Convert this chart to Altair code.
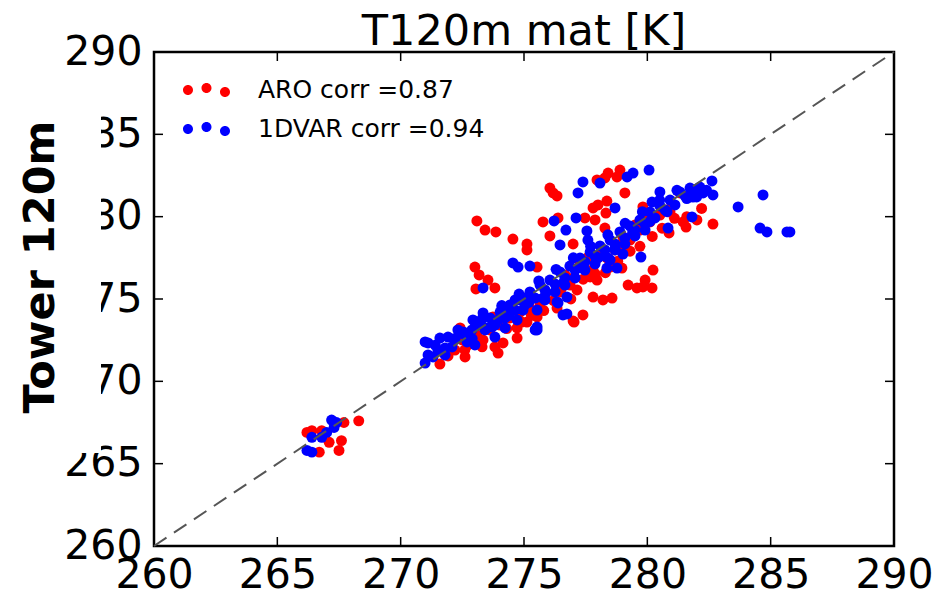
import altair as alt
import pandas as pd

# ---------------- data ----------------
aro_x = [268.3, 267.7, 266.2, 266.4, 266.7, 267.5, 267.6, 267.1, 266.8,
         276.05, 276.18, 276.34, 277.96, 278.28, 278.41, 278.89, 278.77, 279.09, 278.36,
         278.00, 277.80, 278.32, 277.47, 277.88, 273.09, 275.77, 276.38, 273.42, 273.86,
         274.55, 275.12, 275.12, 276.05, 276.99, 278.28, 279.01, 279.82, 279.99, 281.32,
         280.92, 281.45, 281.57, 282.01, 282.66, 280.88, 280.23, 279.91, 279.22, 279.58,
         279.82, 280.19, 278.49, 278.97, 277.80, 277.68, 277.96, 277.80, 278.20, 278.57,
         276.99, 277.15, 277.39, 277.03, 273.01, 273.18, 273.54, 273.82, 273.05, 275.53,
         276.34, 276.99, 275.53, 275.12, 274.72, 274.72, 274.15, 273.82, 273.95, 273.74,
         273.34, 273.09, 272.41, 272.61, 271.59,
         277.55, 277.88, 278.08, 277.47, 277.27, 276.66, 276.87, 276.46, 275.85, 275.65,
         275.24, 274.84, 274.43, 274.03, 273.62, 273.13, 272.73, 272.20, 272.49, 271.92,
         278.89, 279.30, 279.70, 280.11, 280.51, 281.00, 278.69, 279.50, 278.36,
         274.3, 274.9, 275.3, 275.8, 276.2, 276.5, 276.9, 277.4, 277.9, 278.3,
         278.8, 279.3, 279.7, 280.2, 280.6, 281.1, 281.6, 282.2, 272.6, 273.3]
aro_y = [267.6, 267.5, 266.9, 267.0, 265.7, 265.8, 266.4, 266.3, 267.0,
         281.74, 281.44, 281.26, 282.23, 282.35, 282.65, 282.83, 282.41, 281.44, 280.95,
         280.71, 280.53, 280.22, 279.92, 279.80, 279.74, 279.68, 279.92, 279.19, 279.07,
         278.64, 278.34, 277.98, 278.83, 278.34, 279.31, 278.77, 280.59, 280.10, 281.44,
         280.28, 279.68, 279.37, 279.80, 279.55, 279.01, 276.76, 276.15, 275.85, 275.67,
         275.73, 275.67, 276.94, 276.88, 276.76, 276.34, 276.15, 275.12, 274.94, 275.06,
         276.28, 275.55, 274.03, 273.60, 276.94, 276.46, 276.15, 275.67, 275.61, 276.94,
         274.45, 273.66, 273.91, 273.60, 273.24, 272.63, 272.33, 272.09, 271.72, 273.91,
         272.51, 272.81, 273.24, 271.48, 271.05,
         277.49, 277.25, 277.67, 276.88, 277.25, 276.46, 275.85, 275.43, 275.12, 274.76,
         274.45, 274.21, 273.85, 273.42, 273.12, 272.51, 272.21, 271.90, 272.51, 271.54,
         278.28, 278.58, 279.19, 279.68, 280.10, 280.71, 277.98, 279.49, 277.49,
         273.2, 273.6, 274.0, 274.3, 274.9, 275.6, 275.0, 276.2, 276.5, 276.6,
         277.3, 277.9, 278.2, 278.8, 279.3, 279.9, 280.0, 280.5, 271.9, 272.1]

dvar_x = [267.2, 267.3, 267.0, 266.4, 266.2, 266.4, 267.4, 266.8,
          280.07, 279.42, 279.18, 277.39, 278.08, 277.19, 280.51, 278.69, 277.11, 276.22,
          276.70, 277.55, 277.59, 276.46, 280.19, 281.81, 279.74, 279.01, 278.36, 278.77,
          278.41, 274.55, 274.76, 275.24, 273.34, 276.74, 276.38, 276.58, 276.74, 273.34,
          275.53, 274.72, 282.62, 282.13, 282.26, 281.85, 282.66, 284.69, 283.68, 284.57,
          284.85, 285.66, 285.78, 280.84, 278.49,
          270.99, 271.11, 271.59, 271.92, 270.99, 271.11, 271.31, 271.80, 272.08, 273.01,
          272.61, 272.89, 273.82, 274.23, 275.53, 274.11, 272.32, 272.20, 271.51,
          273.22, 273.42, 273.62, 273.82, 274.03, 274.23, 274.43, 274.64, 274.84, 275.04,
          275.24, 275.45, 275.65, 275.85, 276.05, 276.26, 276.46, 276.66, 276.86, 277.07,
          277.27, 277.47, 277.68, 277.88, 278.08, 278.28, 278.49, 278.69, 278.89, 279.09,
          279.30, 279.50, 279.70, 279.91, 280.11, 280.31, 280.51, 280.72, 280.92, 281.12,
          281.32, 281.53, 281.73, 281.93, 275.85, 276.26, 276.66, 277.07, 277.47, 277.88,
          278.28, 278.69, 279.09, 279.50, 279.91, 275.04, 274.64, 274.23, 273.95,
          273.50, 274.96, 275.53, 275.77, 276.34, 275.45, 271.72, 273.01, 272.69, 272.53,
          272.93,
          272.5, 272.9, 273.3, 273.7, 274.1, 274.4, 274.8, 275.2, 275.6, 275.9,
          276.3, 276.6, 277.0, 277.3, 277.7, 278.0, 278.4, 278.7, 279.1, 279.4,
          279.8, 280.1, 280.5, 280.8, 281.2, 281.6, 282.0, 282.4, 271.4, 271.8, 272.2]
dvar_y = [267.65, 267.2, 266.9, 266.6, 265.8, 265.7, 267.5, 266.6,
          282.83, 282.65, 282.41, 282.11, 282.04, 281.44, 281.50, 280.53, 279.92, 279.74,
          279.19, 279.13, 278.58, 278.28, 280.89, 279.98, 277.55, 277.73, 276.88, 276.88,
          277.49, 277.19, 276.94, 277.00, 275.67, 275.12, 274.76, 274.03, 274.09, 274.15,
          273.30, 273.73, 282.17, 281.80, 281.44, 281.19, 281.32, 281.32, 280.59, 279.31,
          279.07, 279.07, 279.07, 279.31, 277.37,
          272.39, 272.33, 272.63, 272.69, 271.11, 271.60, 271.48, 272.02, 272.09, 273.60,
          272.94, 273.12, 272.69, 273.24, 273.12, 274.51, 273.12, 272.51, 271.90,
          273.42, 273.12, 273.85, 273.42, 274.21, 273.85, 274.64, 274.33, 274.94, 274.64,
          275.43, 275.06, 275.85, 275.55, 276.15, 275.91, 276.64, 276.28, 277.00, 276.76,
          277.49, 277.25, 277.85, 277.61, 278.22, 277.98, 278.58, 278.34, 279.07, 278.70,
          279.43, 279.19, 279.80, 279.55, 280.28, 279.92, 280.65, 280.41, 281.01, 280.71,
          281.50, 281.26, 281.74, 281.62, 274.94, 275.43, 275.85, 276.28, 276.76, 277.13,
          277.61, 277.98, 278.34, 278.83, 279.19, 275.06, 274.94, 274.33, 273.73,
          273.24, 274.33, 274.33, 275.06, 274.82, 273.12, 271.78, 272.21, 272.39, 273.00,
          273.73,
          272.9, 272.6, 273.8, 273.3, 274.6, 274.0, 275.3, 274.8, 276.1, 275.4,
          276.8, 276.0, 277.5, 276.9, 278.2, 277.5, 278.9, 278.1, 279.6, 279.0,
          280.3, 279.7, 281.0, 280.3, 281.6, 281.1, 281.2, 281.6, 272.2, 271.6, 272.6]

series_names = ["ARO corr =0.87", "1DVAR corr =0.94"]
series_colors = ["#ff0000", "#0000ff"]
diag_vals = [260, 290]
tick_vals = [265, 270, 275, 280, 285]
axis_vals = [260, 265, 270, 275, 280, 285, 290]

W, H = 740, 494
FONT = "DejaVu Sans"

pts = pd.DataFrame({
    "x": aro_x + dvar_x,
    "y": aro_y + dvar_y,
    "series": [series_names[0]] * len(aro_x) + [series_names[1]] * len(dvar_x),
})
diag = pd.DataFrame({"x": diag_vals, "y": diag_vals})
ticks = pd.DataFrame({"x": tick_vals, "y": tick_vals})

xs = alt.Scale(domain=[260, 290], nice=False, zero=False)
ys = alt.Scale(domain=[260, 290], nice=False, zero=False)


def circle_path(cx, cy, r):
    return (f"M{cx - r},{cy}A{r},{r},0,1,0,{cx + r},{cy}"
            f"A{r},{r},0,1,0,{cx - r},{cy}Z")


legend_symbol = (circle_path(-1.85, 0, 0.5) + circle_path(0, -0.2, 0.5)
                 + circle_path(1.85, 0.2, 0.5))

# white box behind the y title (covers part of the tick labels, as in the reference)
cover = alt.Chart(alt.Data(values=[{}])).mark_rect(color="white").encode(
    x=alt.value(-154), x2=alt.value(-53), y=alt.value(48), y2=alt.value(401)
)

points = alt.Chart(pts).mark_circle(size=120, opacity=1).encode(
    x=alt.X("x:Q", scale=xs, title=None,
            axis=alt.Axis(values=axis_vals, domain=False, ticks=False, grid=False,
                          labelFontSize=41, labelFont=FONT, labelColor="black",
                          labelPadding=9, labelFlush=False, labelOverlap=False)),
    y=alt.Y("y:Q", scale=ys, title=None,
            axis=alt.Axis(values=axis_vals, domain=False, ticks=False, grid=False,
                          labelFontSize=41, labelFont=FONT, labelColor="black",
                          labelPadding=12, labelFlush=False, labelOverlap=False)),
    color=alt.Color("series:N",
                    scale=alt.Scale(domain=series_names, range=series_colors),
                    legend=alt.Legend(title=None, orient="none", legendX=40, legendY=25.5,
                                      symbolType=legend_symbol, symbolSize=400,
                                      symbolStrokeWidth=0, symbolOpacity=1,
                                      labelFont=FONT, labelFontSize=25, labelLimit=500,
                                      labelColor="black", labelOffset=39,
                                      rowPadding=13, padding=0)),
)

line = alt.Chart(diag).mark_line(color="#555555", strokeWidth=2, strokeDash=[15, 9]).encode(
    x=alt.X("x:Q", scale=xs, title=None),
    y=alt.Y("y:Q", scale=ys, title=None),
)

tk = dict(color="black", strokeWidth=1.5)
top_t = alt.Chart(ticks).mark_rule(**tk).encode(
    x=alt.X("x:Q", scale=xs, title=None), y=alt.value(0), y2=alt.value(9))
bot_t = alt.Chart(ticks).mark_rule(**tk).encode(
    x=alt.X("x:Q", scale=xs, title=None), y=alt.value(H), y2=alt.value(H - 9))
left_t = alt.Chart(ticks).mark_rule(**tk).encode(
    y=alt.Y("y:Q", scale=ys, title=None), x=alt.value(0), x2=alt.value(9))
right_t = alt.Chart(ticks).mark_rule(**tk).encode(
    y=alt.Y("y:Q", scale=ys, title=None), x=alt.value(W), x2=alt.value(W - 9))

ytitle = alt.Chart(alt.Data(values=[{}])).mark_text(
    text="Tower 120m", font=FONT, fontSize=43, fontWeight="bold", color="black",
    angle=270, align="center", baseline="alphabetic"
).encode(x=alt.value(-100), y=alt.value(215))

chart = alt.layer(cover, points, line, top_t, bot_t, left_t, right_t, ytitle).properties(
    width=W, height=H,
    title=alt.TitleParams("T120m mat [K]", font=FONT, fontSize=43, fontWeight="normal",
                          color="black", anchor="middle", offset=4, dy=27),
    autosize=alt.AutoSizeParams(type="none"),
    padding={"left": 154, "top": 52, "right": 56, "bottom": 49},
).configure(
    background="white",
    view=alt.ViewConfig(stroke="black", strokeWidth=2.5),
)

chart.save("out.html", embed_options={"renderer": "svg", "actions": False})
